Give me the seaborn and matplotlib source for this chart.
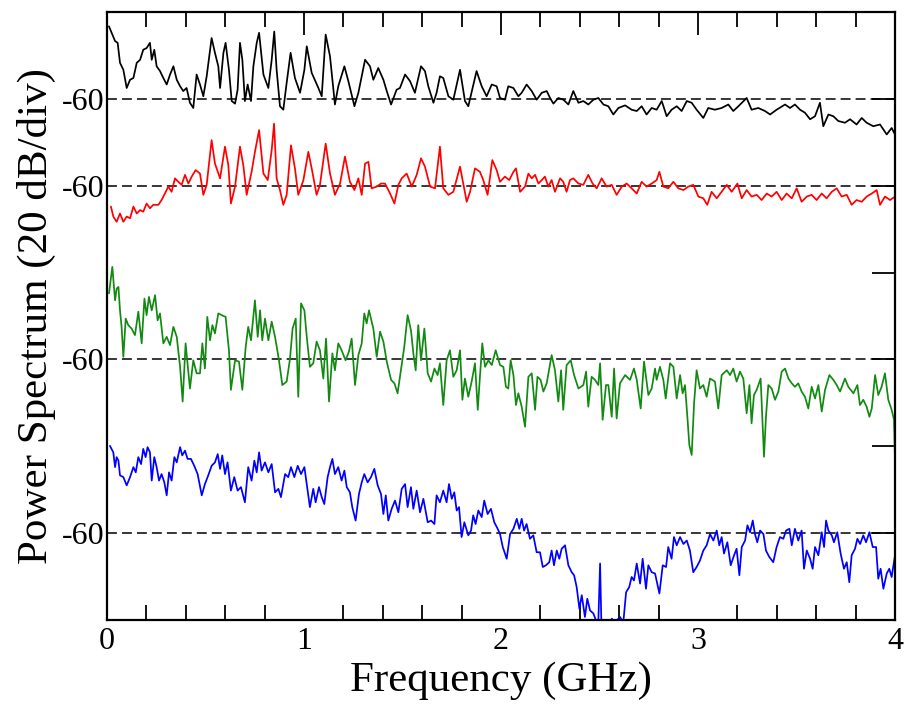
import matplotlib
matplotlib.use("Agg")
import matplotlib.pyplot as plt
import seaborn as sns
import pandas as pd
from matplotlib.ticker import MultipleLocator

# ---------------- data ----------------
black_f = [0.010, 0.041, 0.054, 0.066, 0.083, 0.100, 0.117, 0.134, 0.151, 0.168, 0.184, 0.201, 0.218, 0.227, 0.240,
           0.252, 0.269, 0.286, 0.303, 0.320, 0.337, 0.354, 0.371, 0.387, 0.404, 0.421, 0.438, 0.455, 0.472, 0.489,
           0.506, 0.531, 0.548, 0.565, 0.574, 0.591, 0.602, 0.619, 0.633, 0.650, 0.663, 0.675, 0.687, 0.700, 0.714,
           0.731, 0.743, 0.760, 0.772, 0.794, 0.819, 0.836, 0.849, 0.861, 0.878, 0.895, 0.912, 0.932, 0.954, 0.980,
           1.002, 1.014, 1.039, 1.073, 1.090, 1.110, 1.132, 1.157, 1.174, 1.205, 1.225, 1.256, 1.276, 1.310, 1.335,
           1.352, 1.377, 1.403, 1.420, 1.442, 1.470, 1.487, 1.513, 1.538, 1.563, 1.594, 1.614, 1.631, 1.657, 1.673,
           1.690, 1.707, 1.733, 1.758, 1.792, 1.817, 1.834, 1.876, 1.902, 1.927, 1.953, 1.978, 1.995, 2.020, 2.037,
           2.063, 2.088, 2.105, 2.130, 2.156, 2.181, 2.207, 2.232, 2.249, 2.266, 2.291, 2.317, 2.342, 2.367, 2.393,
           2.418, 2.443, 2.469, 2.494, 2.520, 2.545, 2.570, 2.596, 2.630, 2.663, 2.689, 2.714, 2.739, 2.765, 2.790,
           2.816, 2.841, 2.866, 2.892, 2.917, 2.943, 2.968, 2.993, 3.027, 3.052, 3.086, 3.120, 3.154, 3.179, 3.205,
           3.247, 3.272, 3.306, 3.340, 3.366, 3.399, 3.442, 3.467, 3.492, 3.518, 3.543, 3.569, 3.594, 3.619, 3.636,
           3.662, 3.687, 3.712, 3.746, 3.772, 3.805, 3.831, 3.856, 3.890, 3.924, 3.958, 3.983, 4.000]
black_db = [-43.3, -46.7, -47.1, -51.7, -53.3, -57.5, -55.6, -55.2, -51.7, -51.0, -48.7, -48.3, -47.1, -51.0, -48.7,
            -52.5, -53.6, -55.2, -56.7, -54.4, -52.5, -55.6, -57.1, -58.2, -57.5, -60.9, -62.1, -54.4, -56.7, -59.4,
            -54.8, -46.0, -49.4, -52.5, -57.5, -49.4, -47.1, -53.3, -60.5, -61.1, -57.9, -47.1, -51.0, -60.5, -56.7,
            -60.5, -52.5, -47.1, -44.8, -54.4, -57.5, -51.0, -44.5, -53.3, -61.7, -62.5, -56.3, -49.4, -55.2, -58.6,
            -53.3, -47.9, -54.0, -57.5, -59.4, -45.2, -50.2, -61.3, -57.1, -52.5, -55.9, -61.7, -58.6, -51.0, -52.5,
            -55.6, -52.9, -55.6, -58.2, -61.3, -57.9, -57.5, -54.4, -55.9, -58.6, -52.5, -53.6, -57.1, -60.9, -58.6,
            -54.8, -55.2, -59.4, -60.2, -53.3, -60.5, -61.7, -53.6, -57.1, -59.4, -56.7, -57.1, -59.8, -60.2, -57.1,
            -57.5, -59.4, -58.6, -56.7, -58.2, -60.2, -58.6, -58.2, -59.8, -61.1, -59.8, -60.2, -61.3, -58.2, -60.9,
            -60.5, -61.3, -60.2, -59.8, -61.3, -61.7, -63.6, -62.1, -61.5, -62.5, -62.8, -61.7, -63.6, -62.1, -62.5,
            -60.5, -64.0, -62.5, -61.7, -62.8, -60.5, -60.9, -62.5, -64.4, -62.1, -62.5, -62.1, -61.3, -62.8, -61.7,
            -59.8, -62.5, -62.1, -62.8, -63.6, -62.5, -61.3, -62.1, -61.3, -62.5, -63.2, -64.7, -64.0, -60.9, -66.3,
            -63.6, -64.0, -65.1, -65.5, -64.7, -65.9, -64.4, -65.5, -66.3, -65.9, -68.2, -66.7, -68.2]

red_f = [0.020, 0.032, 0.049, 0.066, 0.083, 0.100, 0.117, 0.134, 0.151, 0.168, 0.184, 0.201, 0.218, 0.235, 0.261,
         0.277, 0.294, 0.311, 0.328, 0.345, 0.362, 0.379, 0.396, 0.413, 0.430, 0.450, 0.472, 0.489, 0.506, 0.531,
         0.548, 0.574, 0.599, 0.616, 0.629, 0.650, 0.675, 0.692, 0.709, 0.734, 0.751, 0.772, 0.794, 0.816, 0.836,
         0.848, 0.861, 0.878, 0.895, 0.912, 0.934, 0.954, 0.971, 0.997, 1.022, 1.039, 1.064, 1.081, 1.110, 1.132,
         1.157, 1.183, 1.208, 1.233, 1.256, 1.276, 1.293, 1.310, 1.327, 1.343, 1.369, 1.391, 1.411, 1.437, 1.459,
         1.479, 1.496, 1.521, 1.547, 1.572, 1.594, 1.614, 1.640, 1.665, 1.690, 1.707, 1.733, 1.758, 1.792, 1.826,
         1.843, 1.868, 1.893, 1.910, 1.932, 1.956, 1.978, 1.995, 2.020, 2.042, 2.063, 2.076, 2.097, 2.122, 2.139,
         2.156, 2.173, 2.190, 2.207, 2.223, 2.240, 2.257, 2.274, 2.300, 2.316, 2.333, 2.350, 2.367, 2.393, 2.418,
         2.443, 2.465, 2.486, 2.511, 2.536, 2.562, 2.587, 2.613, 2.638, 2.663, 2.689, 2.714, 2.739, 2.765, 2.790,
         2.804, 2.824, 2.849, 2.875, 2.900, 2.926, 2.951, 2.976, 3.002, 3.027, 3.047, 3.069, 3.095, 3.120, 3.146,
         3.171, 3.200, 3.222, 3.247, 3.272, 3.298, 3.323, 3.349, 3.374, 3.399, 3.425, 3.450, 3.476, 3.501, 3.526,
         3.552, 3.577, 3.602, 3.628, 3.653, 3.679, 3.704, 3.729, 3.755, 3.780, 3.805, 3.831, 3.856, 3.882, 3.907,
         3.924, 3.949, 3.975, 4.000]
red_db = [-64.8, -67.1, -68.3, -66.4, -68.3, -67.1, -67.5, -64.8, -66.4, -65.6, -66.0, -64.1, -65.2, -64.4, -64.4,
          -63.3, -61.8, -60.2, -61.4, -58.3, -59.1, -59.8, -57.5, -59.5, -57.9, -56.4, -57.2, -62.1, -59.8, -49.5,
          -54.9, -58.3, -51.0, -55.3, -64.1, -60.2, -51.0, -55.3, -62.1, -56.8, -52.2, -47.2, -57.2, -58.7, -51.8,
          -45.7, -58.3, -61.0, -64.4, -62.1, -50.7, -56.0, -62.1, -58.7, -52.2, -56.0, -62.1, -59.8, -50.3, -57.2,
          -62.1, -59.5, -53.3, -59.1, -61.0, -58.3, -62.1, -54.9, -54.5, -60.6, -60.2, -59.5, -59.5, -61.8, -64.1,
          -59.8, -58.3, -57.2, -60.2, -57.5, -53.7, -55.6, -60.2, -60.6, -51.0, -60.6, -62.1, -61.4, -55.6, -63.7,
          -61.4, -56.0, -56.8, -58.7, -62.1, -54.1, -56.4, -59.1, -57.9, -58.7, -56.8, -56.0, -61.4, -60.2, -57.2,
          -58.3, -57.5, -59.5, -58.7, -57.9, -60.2, -58.7, -61.4, -58.3, -59.1, -61.4, -58.7, -58.3, -59.5, -59.8,
          -57.5, -59.5, -60.6, -58.3, -60.2, -59.8, -62.1, -60.2, -59.5, -60.6, -61.8, -59.1, -60.2, -59.5, -58.7,
          -56.8, -60.2, -60.6, -59.1, -60.6, -61.0, -60.2, -59.8, -62.5, -62.9, -64.4, -61.4, -62.9, -61.4, -59.8,
          -61.4, -59.5, -62.9, -61.0, -62.5, -62.1, -63.3, -61.8, -62.5, -61.4, -63.3, -61.8, -62.9, -60.6, -63.7,
          -62.5, -62.1, -63.3, -61.8, -62.9, -61.4, -60.6, -62.5, -62.1, -64.4, -63.3, -63.7, -62.5, -61.8, -61.0,
          -64.4, -62.5, -63.3, -62.5]

green_f = [0.010, 0.027, 0.041, 0.049, 0.058, 0.066, 0.074, 0.083, 0.095, 0.108, 0.125, 0.142, 0.159, 0.176, 0.190,
           0.201, 0.213, 0.227, 0.244, 0.257, 0.269, 0.286, 0.303, 0.320, 0.337, 0.354, 0.371, 0.384, 0.399, 0.421,
           0.438, 0.455, 0.472, 0.484, 0.497, 0.509, 0.523, 0.535, 0.548, 0.565, 0.582, 0.602, 0.619, 0.629, 0.650,
           0.670, 0.687, 0.704, 0.717, 0.731, 0.751, 0.765, 0.777, 0.788, 0.802, 0.819, 0.836, 0.853, 0.873, 0.890,
           0.912, 0.929, 0.942, 0.958, 0.971, 0.985, 1.002, 1.014, 1.030, 1.047, 1.064, 1.081, 1.098, 1.112, 1.127,
           1.144, 1.157, 1.174, 1.191, 1.211, 1.228, 1.242, 1.259, 1.276, 1.293, 1.306, 1.318, 1.330, 1.352, 1.369,
           1.386, 1.403, 1.420, 1.442, 1.459, 1.475, 1.492, 1.509, 1.526, 1.543, 1.555, 1.567, 1.580, 1.594, 1.611,
           1.628, 1.645, 1.662, 1.678, 1.690, 1.707, 1.724, 1.741, 1.758, 1.775, 1.792, 1.804, 1.817, 1.834, 1.851,
           1.868, 1.882, 1.893, 1.905, 1.919, 1.936, 1.953, 1.973, 1.995, 2.012, 2.025, 2.037, 2.049, 2.063, 2.076,
           2.088, 2.105, 2.122, 2.139, 2.156, 2.173, 2.185, 2.201, 2.215, 2.232, 2.257, 2.274, 2.291, 2.305, 2.316,
           2.333, 2.354, 2.371, 2.393, 2.418, 2.432, 2.443, 2.460, 2.477, 2.494, 2.503, 2.516, 2.533, 2.545, 2.562,
           2.574, 2.587, 2.604, 2.630, 2.655, 2.675, 2.689, 2.709, 2.726, 2.748, 2.765, 2.782, 2.790, 2.807, 2.824,
           2.836, 2.858, 2.875, 2.892, 2.909, 2.922, 2.934, 2.946, 2.956, 2.968, 2.980, 2.993, 3.010, 3.027, 3.044,
           3.061, 3.086, 3.103, 3.120, 3.146, 3.163, 3.179, 3.196, 3.213, 3.230, 3.247, 3.261, 3.272, 3.284, 3.298,
           3.318, 3.335, 3.345, 3.357, 3.374, 3.391, 3.408, 3.425, 3.442, 3.459, 3.476, 3.492, 3.509, 3.526, 3.543,
           3.560, 3.577, 3.594, 3.611, 3.628, 3.645, 3.667, 3.687, 3.704, 3.721, 3.746, 3.763, 3.789, 3.809, 3.822,
           3.839, 3.856, 3.870, 3.882, 3.899, 3.915, 3.932, 3.949, 3.966, 3.983, 3.995, 4.000]
green_db = [-44.8, -38.7, -46.4, -43.7, -43.3, -48.7, -52.5, -59.4, -50.6, -52.1, -52.9, -54.4, -49.0, -56.3, -46.0,
            -49.8, -45.6, -48.7, -45.2, -51.0, -49.4, -56.3, -54.8, -56.7, -52.5, -54.8, -61.7, -69.7, -56.3, -66.7,
            -60.2, -63.2, -63.2, -56.3, -62.1, -50.2, -55.6, -52.1, -54.0, -49.4, -49.8, -50.2, -57.9, -67.0, -60.2,
            -60.5, -67.0, -57.1, -52.5, -55.6, -46.4, -54.8, -48.7, -55.6, -50.6, -55.6, -51.3, -54.8, -60.2, -65.9,
            -65.1, -59.8, -52.9, -50.6, -68.6, -47.1, -48.7, -54.8, -61.7, -60.9, -55.9, -57.9, -64.4, -55.2, -69.7,
            -58.6, -62.5, -56.3, -57.9, -60.2, -58.2, -55.2, -65.9, -59.0, -56.3, -49.4, -51.7, -48.7, -52.9, -59.4,
            -53.6, -55.9, -60.5, -64.7, -65.5, -67.8, -62.5, -57.1, -49.8, -53.3, -58.6, -62.5, -52.1, -60.2, -52.9,
            -63.2, -65.1, -62.1, -63.6, -60.9, -70.5, -60.2, -57.9, -64.0, -62.5, -57.9, -69.3, -64.4, -68.6, -65.1,
            -60.9, -71.6, -64.0, -56.3, -61.7, -60.2, -61.3, -57.9, -61.3, -61.7, -66.3, -66.7, -60.2, -63.6, -70.5,
            -67.8, -70.9, -75.5, -64.0, -63.2, -71.6, -64.0, -64.7, -67.4, -65.5, -59.0, -62.5, -69.7, -62.5, -71.6,
            -61.3, -60.2, -63.6, -66.7, -65.9, -62.8, -70.9, -64.0, -64.7, -65.9, -60.9, -73.9, -65.9, -65.9, -73.2,
            -62.1, -73.6, -65.5, -63.6, -64.7, -62.1, -64.7, -71.3, -60.5, -68.2, -66.7, -62.1, -64.7, -61.7, -64.7,
            -69.0, -60.9, -61.7, -69.0, -63.6, -67.8, -65.9, -73.2, -79.7, -82.0, -70.1, -62.5, -66.7, -65.9, -68.6,
            -64.4, -65.1, -71.3, -63.6, -62.5, -63.6, -62.1, -65.1, -62.8, -64.4, -72.4, -65.9, -74.7, -68.2, -67.0,
            -64.4, -82.4, -73.2, -65.9, -66.7, -69.3, -67.4, -62.8, -62.1, -64.4, -65.5, -66.3, -65.5, -67.4, -68.6,
            -71.3, -66.3, -69.0, -65.9, -72.0, -67.0, -63.6, -64.7, -65.9, -67.4, -64.4, -66.3, -67.8, -65.9, -70.5,
            -69.3, -70.9, -73.2, -71.3, -63.6, -68.2, -66.3, -63.2, -69.3, -71.6, -73.9, -83.1]

blue_f = [0.015, 0.032, 0.041, 0.049, 0.058, 0.066, 0.083, 0.100, 0.117, 0.134, 0.146, 0.159, 0.173, 0.184, 0.196,
          0.206, 0.218, 0.227, 0.240, 0.252, 0.264, 0.277, 0.291, 0.303, 0.315, 0.328, 0.342, 0.354, 0.371, 0.382,
          0.396, 0.409, 0.426, 0.443, 0.460, 0.481, 0.497, 0.514, 0.531, 0.548, 0.562, 0.574, 0.585, 0.599, 0.612,
          0.629, 0.646, 0.663, 0.680, 0.700, 0.717, 0.734, 0.748, 0.760, 0.772, 0.785, 0.802, 0.819, 0.836, 0.853,
          0.870, 0.883, 0.904, 0.920, 0.934, 0.951, 0.968, 0.985, 1.002, 1.014, 1.030, 1.047, 1.059, 1.076, 1.090,
          1.103, 1.120, 1.132, 1.144, 1.157, 1.174, 1.191, 1.205, 1.217, 1.233, 1.245, 1.262, 1.279, 1.293, 1.306,
          1.323, 1.340, 1.357, 1.374, 1.391, 1.403, 1.415, 1.428, 1.445, 1.462, 1.479, 1.496, 1.513, 1.526, 1.543,
          1.555, 1.572, 1.589, 1.606, 1.628, 1.645, 1.662, 1.673, 1.690, 1.707, 1.724, 1.736, 1.750, 1.763, 1.775,
          1.787, 1.800, 1.814, 1.834, 1.848, 1.859, 1.871, 1.885, 1.902, 1.915, 1.932, 1.949, 1.966, 1.983, 1.995,
          2.009, 2.029, 2.046, 2.063, 2.080, 2.093, 2.105, 2.117, 2.130, 2.147, 2.164, 2.181, 2.198, 2.212, 2.228,
          2.245, 2.257, 2.269, 2.283, 2.296, 2.308, 2.325, 2.342, 2.359, 2.371, 2.384, 2.398, 2.410, 2.426, 2.438,
          2.452, 2.469, 2.482, 2.494, 2.503, 2.511, 2.536, 2.562, 2.579, 2.604, 2.621, 2.635, 2.651, 2.663, 2.675,
          2.689, 2.706, 2.719, 2.736, 2.748, 2.765, 2.782, 2.804, 2.821, 2.838, 2.849, 2.866, 2.878, 2.892, 2.909,
          2.926, 2.943, 2.959, 2.976, 2.993, 3.010, 3.027, 3.044, 3.061, 3.078, 3.095, 3.108, 3.120, 3.132, 3.149,
          3.166, 3.183, 3.196, 3.210, 3.222, 3.239, 3.251, 3.264, 3.278, 3.289, 3.301, 3.315, 3.332, 3.345, 3.362,
          3.382, 3.399, 3.416, 3.433, 3.447, 3.464, 3.476, 3.492, 3.509, 3.526, 3.538, 3.552, 3.569, 3.582, 3.594,
          3.611, 3.628, 3.640, 3.650, 3.662, 3.679, 3.690, 3.707, 3.724, 3.741, 3.755, 3.768, 3.780, 3.797, 3.809,
          3.823, 3.839, 3.853, 3.870, 3.887, 3.904, 3.915, 3.927, 3.941, 3.958, 3.971, 3.983, 4.000]
blue_db = [-39.9, -41.4, -44.8, -42.5, -43.3, -46.7, -47.1, -49.0, -47.1, -44.8, -46.0, -42.5, -44.1, -40.6, -42.5,
           -40.2, -41.4, -47.9, -42.5, -44.8, -47.9, -46.4, -48.3, -51.3, -46.0, -47.9, -42.5, -43.7, -40.2, -42.1,
           -41.0, -42.9, -42.9, -44.5, -46.4, -51.3, -48.7, -46.7, -44.5, -43.7, -41.8, -45.2, -42.1, -46.4, -43.7,
           -50.2, -47.1, -50.2, -49.4, -52.9, -44.8, -47.9, -43.3, -46.0, -41.4, -45.6, -43.7, -46.0, -44.1, -50.6,
           -49.8, -51.7, -46.4, -47.1, -44.8, -47.1, -44.5, -46.4, -44.8, -48.7, -54.0, -49.8, -52.9, -49.4, -51.7,
           -53.3, -47.1, -44.8, -42.9, -46.4, -44.8, -47.9, -45.6, -49.4, -50.6, -54.0, -57.1, -51.0, -48.3, -46.4,
           -48.3, -47.1, -45.2, -49.0, -51.0, -55.6, -51.3, -57.1, -54.4, -52.5, -55.2, -49.8, -48.7, -54.0, -49.4,
           -54.4, -50.2, -55.2, -52.1, -57.5, -57.1, -57.9, -51.3, -52.9, -50.2, -52.9, -48.7, -52.1, -50.6, -54.8,
           -54.0, -60.9, -57.5, -60.5, -59.4, -55.9, -57.9, -54.8, -56.3, -52.5, -55.6, -54.4, -57.5, -59.0, -60.2,
           -63.2, -65.9, -60.2, -59.0, -56.7, -59.0, -56.7, -59.4, -57.9, -61.3, -60.5, -64.4, -64.4, -67.8, -67.4,
           -66.7, -64.0, -67.4, -64.0, -65.9, -63.6, -62.8, -67.4, -69.0, -69.7, -72.4, -77.4, -74.3, -79.3, -75.1,
           -77.8, -78.5, -80.1, -80.5, -67.0, -84.0, -84.7, -79.7, -80.5, -79.3, -80.5, -73.6, -72.4, -70.1, -70.9,
           -67.0, -71.6, -65.9, -72.8, -67.4, -69.0, -69.3, -73.9, -67.4, -67.8, -63.2, -65.9, -60.9, -62.8, -60.9,
           -62.5, -61.7, -64.0, -69.0, -67.8, -66.3, -64.0, -62.8, -60.2, -61.7, -59.4, -62.8, -60.9, -64.7, -62.1,
           -67.4, -65.1, -63.6, -69.7, -63.2, -61.7, -58.2, -59.8, -57.1, -60.2, -62.1, -59.4, -60.2, -64.0, -65.5,
           -66.7, -63.2, -60.9, -61.3, -59.4, -59.0, -62.8, -59.0, -61.7, -59.4, -68.2, -64.0, -65.9, -68.2, -63.2,
           -65.1, -59.8, -63.2, -57.1, -59.4, -60.5, -62.1, -59.8, -64.7, -68.2, -66.7, -71.3, -65.1, -63.6, -61.3,
           -62.5, -60.5, -62.1, -59.8, -63.2, -63.2, -70.5, -68.2, -72.8, -69.3, -68.2, -70.1, -65.1]

trace_names = ["black", "red", "green", "blue"]
trace_colors = ["black", "#ff0000", "#128a12", "#0000ff"]
reference_db = -60
# display offsets (dB) used to stack the traces, 20 dB per division
trace_offsets = [180, 160, 120, 80]
tick_labels = ["-60", "", "-60", "", "-60", "-60"]

# ---------------- figure ----------------
sns.set_theme(style="white")
plt.rcParams["font.family"] = ["Liberation Serif", "DejaVu Serif"]

fig = plt.figure(figsize=(9.11, 7.09), dpi=100)
ax = fig.add_axes([107 / 911, 89 / 709, 788 / 911, 608 / 709])

frames = []
for name, f, db, off in zip(trace_names,
                            [black_f, red_f, green_f, blue_f],
                            [black_db, red_db, green_db, blue_db],
                            trace_offsets):
    frames.append(pd.DataFrame({"freq": f, "level": [v + off for v in db], "trace": name}))
df = pd.concat(frames, ignore_index=True)

sns.lineplot(data=df, x="freq", y="level", hue="trace", hue_order=trace_names,
             palette=trace_colors, estimator=None, sort=False, linewidth=1.25,
             legend=False, ax=ax)

for off in trace_offsets:
    ax.axhline(reference_db + off, color="black", linestyle=(0, (6.5, 3.3)), linewidth=1.1, zorder=1)

ax.set_xlim(0, 4)
ax.set_ylim(0, 140)
ax.set_xticks([0, 1, 2, 3, 4])
ax.set_xticklabels(["0", "1", "2", "3", "4"])
ax.xaxis.set_minor_locator(MultipleLocator(0.2))
ax.set_yticks([20, 40, 60, 80, 100, 120])
ax.set_yticklabels(tick_labels)

ax.tick_params(axis="both", which="major", direction="in", length=16.5, width=1.3,
               top=True, right=True, labelsize=23, color="black", labelcolor="black", pad=5)
ax.tick_params(axis="x", which="minor", direction="in", length=11, width=1.3,
               top=True, bottom=True, color="black")
ax.tick_params(axis="y", which="major", pad=2)

for s in ax.spines.values():
    s.set_visible(True)
    s.set_color("black")
    s.set_linewidth(1.6)

ax.set_xlabel("Frequency (GHz)", fontsize=31, color="black", labelpad=4)
ax.set_ylabel("Power Spectrum (20 dB/div)", fontsize=31, color="black", labelpad=4)
ax.grid(False)

fig.savefig("out.png", dpi=100, facecolor="white")
